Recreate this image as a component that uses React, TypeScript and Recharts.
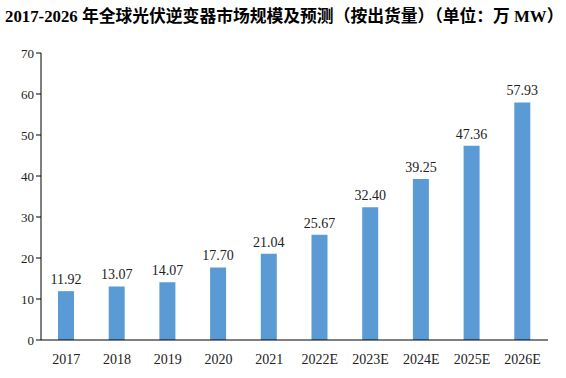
import { BarChart, Bar, XAxis, YAxis, LabelList } from "recharts";

const years = ["2017", "2018", "2019", "2020", "2021", "2022E", "2023E", "2024E", "2025E", "2026E"];
const shipments = [11.92, 13.07, 14.07, 17.7, 21.04, 25.67, 32.4, 39.25, 47.36, 57.93];
const yTicks = [0, 10, 20, 30, 40, 50, 60, 70];

const data = years.map((year, i) => ({ year, value: shipments[i] }));

const serif = '"Times New Roman", "Liberation Serif", "DejaVu Serif", serif';

export default function App() {
  return (
    <div style={{ position: "absolute", left: 0, top: 0, width: 566, height: 378, background: "#fff" }}>
      <div
        style={{
          position: "absolute",
          left: 5,
          top: 5,
          width: 558,
          lineHeight: "24px",
          fontFamily: '"Liberation Serif", "Noto Sans CJK SC", serif',
          fontWeight: "bold",
          fontSize: 16.8,
          color: "#000",
          whiteSpace: "nowrap",
        }}
      >
        2017-2026 年全球光伏逆变器市场规模及预测（按出货量）（单位：万 MW）
      </div>
      <BarChart
        width={566}
        height={378}
        data={data}
        margin={{ top: 53, right: 18, bottom: 8, left: 0 }}
        style={{ position: "absolute", left: 0, top: 0 }}
      >
        <XAxis
          dataKey="year"
          height={30}
          tickLine={false}
          axisLine={{ stroke: "#000", strokeWidth: 1 }}
          tick={{ fill: "#222", fontSize: 14, fontFamily: serif }}
          tickMargin={8}
          interval={0}
        />
        <YAxis
          width={41}
          domain={[0, 70]}
          ticks={yTicks}
          axisLine={{ stroke: "#000", strokeWidth: 1 }}
          tickLine={{ stroke: "#000" }}
          tickSize={5}
          tick={{ fill: "#222", fontSize: 13, fontFamily: serif }}
        />
        <Bar dataKey="value" fill="#5B9BD5" barSize={16} isAnimationActive={false}>
          <LabelList
            dataKey="value"
            position="top"
            offset={7}
            formatter={(v: number) => v.toFixed(2)}
            style={{ fill: "#222", fontSize: 14, fontFamily: serif }}
          />
        </Bar>
      </BarChart>
    </div>
  );
}
